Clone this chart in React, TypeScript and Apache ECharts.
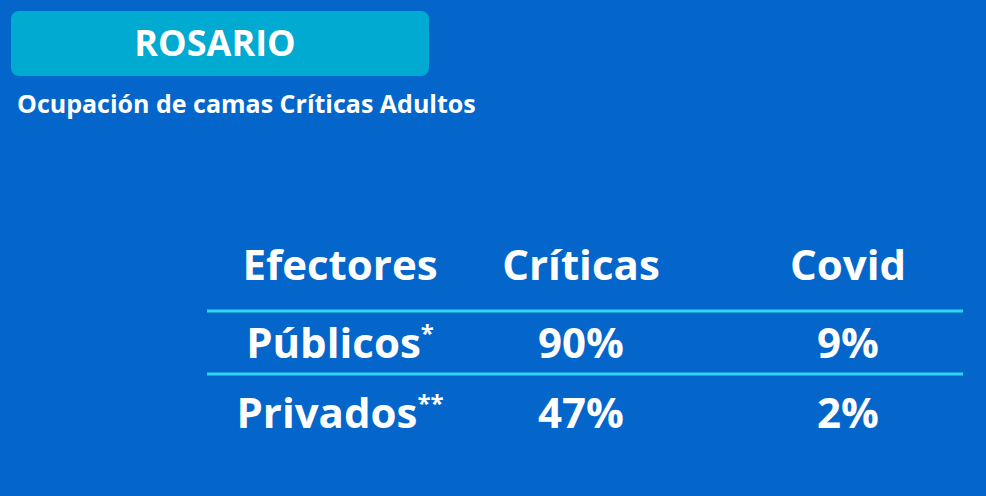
import React, { useEffect, useRef } from "react";
import * as echarts from "echarts";

const headerTitle = "ROSARIO";
const subtitle = "Ocupación de camas Críticas Adultos";
const columns = ["Efectores", "Críticas", "Covid"];
const rowNames = ["Públicos", "Privados"];
const rowMarks = ["*", "**"];
const criticas = [90, 47];
const covid = [9, 2];

const BG = "#0466CA";
const BOX = "#00AAD0";
const LINE = "#2ED6F2";
const FONT = "'Open Sans', sans-serif";

export default function App() {
  const ref = useRef<HTMLDivElement>(null);
  useEffect(() => {
    const chart = echarts.init(ref.current!, null, { renderer: "svg" });
    const colX = [340, 581, 848];
    const headY = 263;
    const rowY = [341, 411];
    const lineY = [311, 374];
    const g: any[] = [];
    g.push({ type: "rect", shape: { x: 11, y: 11, width: 418, height: 65, r: 8 }, style: { fill: BOX } });
    g.push({ type: "text", x: 215, y: 42, style: { text: headerTitle, fill: "#fff", font: `bold 36px ${FONT}`, align: "center", verticalAlign: "middle" } });
    g.push({ type: "text", x: 17, y: 103, style: { text: subtitle, fill: "#fff", font: `bold 25px ${FONT}`, align: "left", verticalAlign: "middle" } });
    columns.forEach((c, i) => {
      g.push({ type: "text", x: colX[i], y: headY, style: { text: c, fill: "#fff", font: `bold 42px ${FONT}`, align: "center", verticalAlign: "middle" } });
    });
    lineY.forEach((y) => {
      g.push({ type: "line", shape: { x1: 207, y1: y, x2: 963, y2: y }, style: { stroke: LINE, lineWidth: 3 } });
    });
    rowNames.forEach((n, r) => {
      g.push({
        type: "text", x: colX[0], y: rowY[r],
        style: {
          text: `{n|${n}}{s|${rowMarks[r]}}`, align: "center", verticalAlign: "middle",
          rich: {
            n: { fill: "#fff", fontSize: 42, fontWeight: "bold", fontFamily: FONT, verticalAlign: "bottom" },
            s: { fill: "#fff", fontSize: 24, fontWeight: "bold", fontFamily: FONT, verticalAlign: "top", padding: [0, 0, 14, 0] },
          },
        },
      });
      g.push({ type: "text", x: colX[1], y: rowY[r], style: { text: `${criticas[r]}%`, fill: "#fff", font: `bold 42px ${FONT}`, align: "center", verticalAlign: "middle" } });
      g.push({ type: "text", x: colX[2], y: rowY[r], style: { text: `${covid[r]}%`, fill: "#fff", font: `bold 42px ${FONT}`, align: "center", verticalAlign: "middle" } });
    });
    chart.setOption({ animation: false, backgroundColor: BG, graphic: g });
    return () => chart.dispose();
  }, []);
  return <div ref={ref} style={{ width: 986, height: 496, position: "absolute", left: 0, top: 0 }} />;
}
